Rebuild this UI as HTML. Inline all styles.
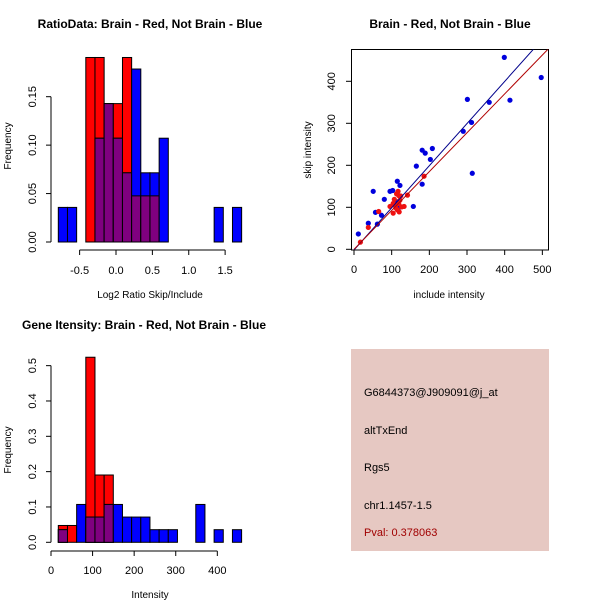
<!DOCTYPE html>
<html><head><meta charset="utf-8"><style>
html,body{margin:0;padding:0;background:#fff;}
svg{display:block;font-family:"Liberation Sans",Arial,sans-serif;}
</style></head><body>
<svg id="s" width="600" height="600" xmlns="http://www.w3.org/2000/svg">
<rect x="351" y="349" width="198" height="202" fill="#e6c8c2"/>
<text x="364" y="396" font-size="11">G6844373@J909091@j_at</text>
<text x="364" y="434" font-size="11">altTxEnd</text>
<text x="364" y="471" font-size="11">Rgs5</text>
<text x="364" y="509" font-size="11">chr1.1457-1.5</text>
<text x="364" y="536" font-size="11" fill="#a00000">Pval: 0.378063</text>
</svg>
<script>
// ---- Panel 1 data: ratio histogram ----
const ratioStart = -0.793, ratioWidth = 0.126;
const ratioRed = [0,0,0,4,4,3,3,4,1,1,1,0,0,0,0,0,0,0,0,0].map(v=>v/21);
const ratioBlue = [1,1,0,0,3,4,3,2,5,2,2,3,0,0,0,0,0,1,0,1].map(v=>v/28);
const ratioXTicks = [-0.5,0.0,0.5,1.0,1.5];
const ratioXLabels = ["-0.5","0.0","0.5","1.0","1.5"];
const ratioYTicks = [0,0.05,0.10,0.15];
const ratioYLabels = ["0.00","0.05","0.10","0.15"];
// ---- Panel 2 data: scatter ----
const blueX = [11.5,38,51,57,62,73,80.5,95.6,102.7,115,122,115,157.5,165.5,181,189,181,202.7,208,290,301,312,314,359,399,414,497,120];
const blueY = [36.5,62,138,88,60,81,119,138,140,162,152,113,102,198,236,229,155,214,240,281,357,302,181,350,457,355,409,100];
const redX = [17,38,65.5,95.6,104,107,113,117,118.6,111.5,120,126.5,133,142,118.6,122,186,109,115,124,104];
const redY = [17,52,90,102,86,119,132,138,128,98,89,101,102,129,109,117,174,104,94,127,109];
const fitBlue = [-1.6,1.0034];
const fitRed = [0,0.925];
const scatXTicks = [0,100,200,300,400,500];
const scatYTicks = [0,100,200,300,400];
// ---- Panel 3 data: intensity histogram ----
const intStart = 17.6, intWidth = 22.04;
const intRed = [1,1,0,11,4,4,0,0,0,0,0,0,0,0,0,0,0,0,0,0].map(v=>v/21);
const intBlue = [1,0,3,2,2,3,3,2,2,2,1,1,1,0,0,3,0,1,0,1].map(v=>v/28);
const intXTicks = [0,100,200,300,400];
const intYTicks = [0,0.1,0.2,0.3,0.4,0.5];
const intYLabels = ["0.0","0.1","0.2","0.3","0.4","0.5"];

const svg = document.getElementById('s');
const NS = "http://www.w3.org/2000/svg";
function mk(tag, attrs, parent){const e=document.createElementNS(NS,tag);for(const k in attrs)e.setAttribute(k,attrs[k]);(parent||svg).appendChild(e);return e;}
function txt(x,y,s,size,opts){const t=mk('text',Object.assign({x:x,y:y,'font-size':size,'text-anchor':'middle'},opts||{}));t.textContent=s;return t;}

function hist(g, start, width, red, blue, sx, sy){
  for(let i=0;i<red.length;i++){
    const x0=sx(start+i*width), x1=sx(start+(i+1)*width);
    const r=red[i], b=blue[i], m=Math.min(r,b);
    if(r>0){const e=mk('rect',{x:x0,y:sy(r),width:x1-x0,height:sy(0)-sy(r),fill:'#ff0000',stroke:'#000','stroke-width':1},g);
      
      }
    if(b>0){const e=mk('rect',{x:x0,y:sy(b),width:x1-x0,height:sy(0)-sy(b),fill:'#0000ff',stroke:'#000','stroke-width':1},g);
      
      }
    if(m>0){const e=mk('rect',{x:x0,y:sy(m),width:x1-x0,height:sy(0)-sy(m),fill:'#7f007f',stroke:'#000','stroke-width':1},g);
      
      }
  }
}
function yAxis(g,x,ticks,labels,sy){
  mk('line',{x1:x,x2:x,y1:sy(ticks[0]),y2:sy(ticks[ticks.length-1]),stroke:'#000'},g);
  ticks.forEach((t,i)=>{const y=sy(t);mk('line',{x1:x-5,x2:x,y1:y,y2:y,stroke:'#000'},g);
    const l=txt(x-15,y,labels[i],11,{transform:`rotate(-90 ${x-15} ${y})`});
    
    });
}
function xAxis(g,y,ticks,labels,sx,ly){
  mk('line',{x1:sx(ticks[0]),x2:sx(ticks[ticks.length-1]),y1:y,y2:y,stroke:'#000'},g);
  ticks.forEach((t,i)=>{const x=sx(t);mk('line',{x1:x,x2:x,y1:y,y2:y+5,stroke:'#000'},g);
    const l=txt(x,ly,labels[i],11);
    
    });
}

// Panel 1
{
  const g=mk('g',{});  
  const sx=v=>116+v*72.75, sy=v=>242-v*968.7;
  hist(g,ratioStart,ratioWidth,ratioRed,ratioBlue,sx,sy);
  yAxis(g,51,ratioYTicks,ratioYLabels,sy);
  xAxis(g,250,ratioXTicks,ratioXLabels,sx,274);
  txt(150,28,'RatioData: Brain - Red, Not Brain - Blue',12,{'font-weight':'bold'});
  txt(150,298,'Log2 Ratio Skip/Include',10);
  txt(11,146,'Frequency',10,{transform:'rotate(-90 11 146)'});
}
// Panel 2
{
  const g=mk('g',{});  
  const sx=v=>354+v*0.3767, sy=v=>249.3-v*0.42;
  mk('rect',{x:351.5,y:49.5,width:197,height:200.5,fill:'none',stroke:'#000'},g);
  const clip=mk('clipPath',{id:'cp'},g); mk('rect',{x:351.5,y:49.5,width:197,height:200.5},clip);
  blueX.forEach((v,i)=>{const c=mk('circle',{cx:sx(v),cy:sy(blueY[i]),r:2.6,fill:'#0000dd'},g);
    
    });
  redX.forEach((v,i)=>{const c=mk('circle',{cx:sx(v),cy:sy(redY[i]),r:2.6,fill:'#ee1111'},g);
    
    });
  const lb=mk('line',{x1:sx(0),y1:sy(fitBlue[0]),x2:sx(520),y2:sy(fitBlue[0]+fitBlue[1]*520),stroke:'#00008b','clip-path':'url(#cp)'},g);
  
  const lr=mk('line',{x1:sx(0),y1:sy(fitRed[0]),x2:sx(520),y2:sy(fitRed[0]+fitRed[1]*520),stroke:'#b00000','clip-path':'url(#cp)'},g);
  
  scatXTicks.forEach(t=>{const x=sx(t);mk('line',{x1:x,x2:x,y1:250,y2:255,stroke:'#000'},g);
    const l=txt(x,273,String(t),11); });
  scatYTicks.forEach(t=>{const y=sy(t);mk('line',{x1:346,x2:351.5,y1:y,y2:y,stroke:'#000'},g);
    const l=txt(335,y,String(t),11,{transform:`rotate(-90 335 ${y})`}); });
  txt(450,28,'Brain - Red, Not Brain - Blue',12,{'font-weight':'bold'});
  txt(449,298,'include intensity',10);
  txt(311,150,'skip intensity',10,{transform:'rotate(-90 311 150)'});
}
// Panel 3
{
  const g=mk('g',{});  
  const sx=v=>51+v*0.4158, sy=v=>542.3-v*353.3;
  hist(g,intStart,intWidth,intRed,intBlue,sx,sy);
  yAxis(g,51,intYTicks,intYLabels,sy);
  xAxis(g,551,intXTicks,intXTicks.map(String),sx,574);
  txt(144,329,'Gene Itensity: Brain - Red, Not Brain - Blue',12,{'font-weight':'bold'});
  txt(150,598,'Intensity',10);
  txt(11,450,'Frequency',10,{transform:'rotate(-90 11 450)'});
}
</script>
</body></html>
